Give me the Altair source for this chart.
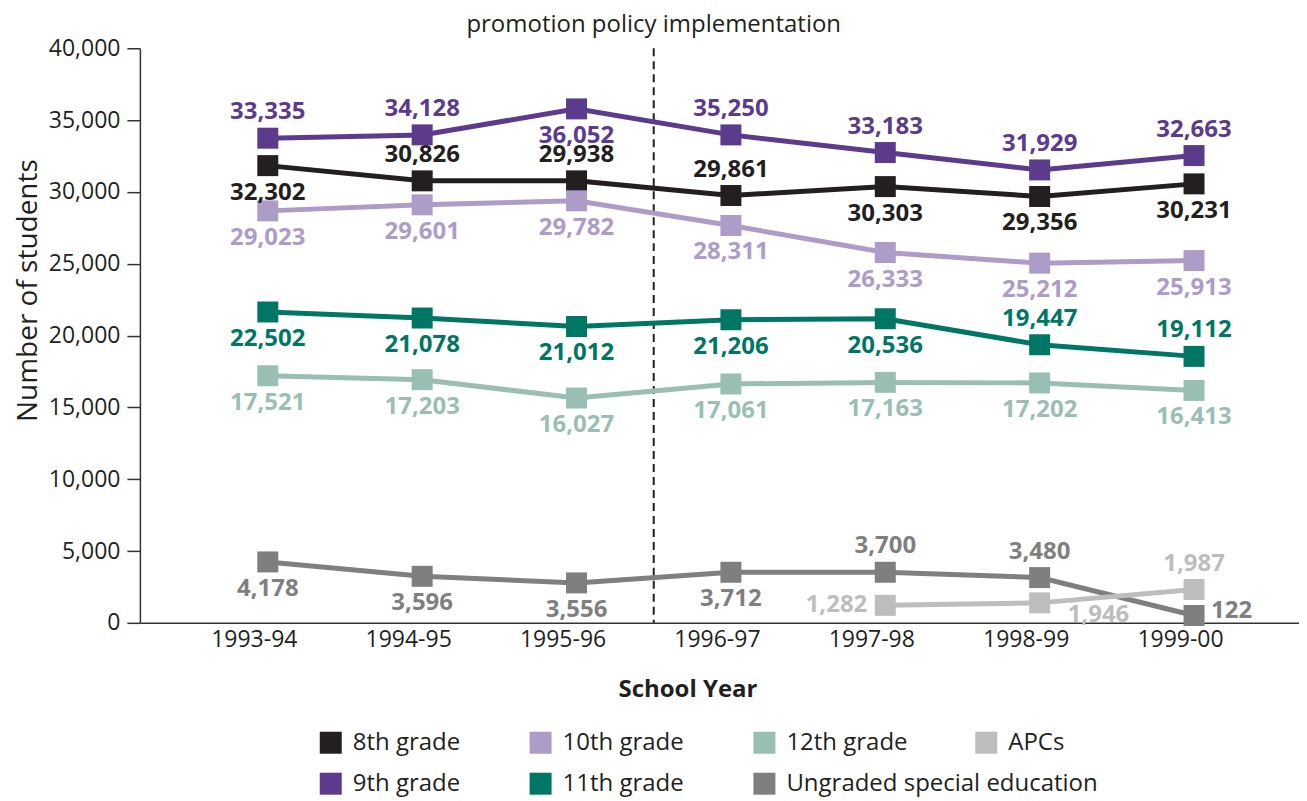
import altair as alt
import pandas as pd

# ---------------- data ----------------
years = ["1993-94", "1994-95", "1995-96", "1996-97", "1997-98", "1998-99", "1999-00"]

grade8 = [31830, 30770, 30770, 29750, 30370, 29680, 30560]
grade8_labels = ["32,302", "30,826", "29,938", "29,861", "30,303", "29,356", "30,231"]
grade8_side = ["below", "above", "above", "above", "below", "below", "below"]

grade9 = [33740, 33970, 35780, 33970, 32740, 31530, 32530]
grade9_labels = ["33,335", "34,128", "36,052", "35,250", "33,183", "31,929", "32,663"]
grade9_side = ["above", "above", "below", "above", "above", "above", "above"]

grade10 = [28680, 29100, 29380, 27660, 25780, 25040, 25220]
grade10_labels = ["29,023", "29,601", "29,782", "28,311", "26,333", "25,212", "25,913"]
grade10_side = ["below"] * 7

grade11 = [21640, 21220, 20630, 21100, 21170, 19360, 18550]
grade11_labels = ["22,502", "21,078", "21,012", "21,206", "20,536", "19,447", "19,112"]
grade11_side = ["below", "below", "below", "below", "below", "above", "above"]

grade12 = [17200, 16930, 15650, 16630, 16740, 16700, 16180]
grade12_labels = ["17,521", "17,203", "16,027", "17,061", "17,163", "17,202", "16,413"]
grade12_side = ["below"] * 7

ungraded = [4240, 3240, 2780, 3520, 3520, 3150, 510]
ungraded_labels = ["4,178", "3,596", "3,556", "3,712", "3,700", "3,480", "122"]
ungraded_side = ["below", "below", "below", "below", "above", "above", "right"]

apcs = [None, None, None, None, 1220, 1390, 2320]
apcs_labels = [None, None, None, None, "1,282", "1,946", "1,987"]
apcs_side = [None, None, None, None, "left", "belowright", "above"]

series = [
    ("8th grade", grade8, grade8_labels, grade8_side),
    ("9th grade", grade9, grade9_labels, grade9_side),
    ("10th grade", grade10, grade10_labels, grade10_side),
    ("11th grade", grade11, grade11_labels, grade11_side),
    ("12th grade", grade12, grade12_labels, grade12_side),
    ("Ungraded special education", ungraded, ungraded_labels, ungraded_side),
    ("APCs", apcs, apcs_labels, apcs_side),
]

colors = {
    "8th grade": "#231f20",
    "9th grade": "#5c3a8c",
    "10th grade": "#ae9cc8",
    "11th grade": "#007765",
    "12th grade": "#99bfb4",
    "APCs": "#bdbdbe",
    "Ungraded special education": "#7f7f80",
}

policy_index = 2.5
policy_text = "promotion policy implementation"
y_ticks = [0, 5000, 10000, 15000, 20000, 25000, 30000, 35000, 40000]

rows = []
for name, vals, labs, sides in series:
    for i, (v, l, s) in enumerate(zip(vals, labs, sides)):
        if v is None:
            continue
        rows.append(dict(series=name, idx=i, year=years[i], value=v, label=l, side=s))
df = pd.DataFrame(rows)

policy_df = pd.DataFrame({"idx": [policy_index], "value": [40000], "value2": [0], "text": [policy_text]})

# ---------------- styling ----------------
FONT = "Open Sans"
DARK = "#231f20"
series_order = [s[0] for s in series]
main_order = [n for n in series_order if n != "APCs"]
mark_scale = alt.Scale(domain=series_order, range=[colors[n] for n in series_order])
main_scale = alt.Scale(domain=main_order, range=[colors[n] for n in main_order])

label_expr = "[" + ",".join("'%s'" % y for y in years) + "][datum.value]"

x_enc = alt.X(
    "idx:Q",
    scale=alt.Scale(domain=[-0.8285, 6.68], nice=False, zero=False),
    axis=alt.Axis(
        values=list(range(len(years))), labelExpr=label_expr, ticks=False, grid=False,
        title="School Year", titleFont=FONT, titleFontSize=24, titleFontWeight="bold",
        titleColor=DARK, titleX=548, titleY=67, titleBaseline="middle",
        labelFont=FONT, labelFontSize=23, labelColor=DARK, labelPadding=6,
        labelOffset=-14, domainColor="#333333", domainWidth=1.5,
    ),
)
y_enc = alt.Y(
    "value:Q",
    scale=alt.Scale(domain=[0, 40000], nice=False),
    axis=alt.Axis(
        values=y_ticks, labelExpr="format(datum.value, ',.0f')", grid=False,
        tickSize=13, tickColor="#333333",
        tickWidth=1.5, domainColor="#333333", domainWidth=1.5,
        labelFont=FONT, labelFontSize=23, labelColor=DARK, labelPadding=7,
        title="Number of students", titleFont=FONT, titleFontSize=28,
        titleFontWeight="normal", titleColor=DARK, titleAngle=270,
        titleX=-111, titleY=242, titleBaseline="middle", titleAlign="center",
    ),
)

legend_common = dict(
    title=None, orient="none", legendY=683, symbolType="square", symbolSize=484,
    symbolStrokeWidth=0, symbolOpacity=1, labelFont=FONT, labelFontSize=24,
    labelColor=DARK, labelOffset=10, rowPadding=17, labelLimit=400,
)

rule = alt.Chart(policy_df).mark_rule(
    strokeDash=[8, 5], strokeWidth=2, color=DARK
).encode(x=x_enc, y=y_enc, y2="value2:Q")

title_txt = alt.Chart(policy_df).mark_text(
    font=FONT, fontSize=24, color=DARK, dy=-23, baseline="middle"
).encode(x=x_enc, y=y_enc, text="text:N")

lines = alt.Chart(df).mark_line(strokeWidth=5).encode(
    x=x_enc, y=y_enc, stroke=alt.Stroke("series:N", scale=mark_scale, legend=None)
)

points_main = alt.Chart(df).transform_filter(alt.datum.series != "APCs").mark_square(
    size=441, filled=True, opacity=1
).encode(
    x=x_enc, y=y_enc,
    color=alt.Color(
        "series:N", scale=main_scale,
        legend=alt.Legend(legendX=179, columns=3, columnPadding=68, **legend_common),
    ),
)

points_apc = alt.Chart(df).transform_filter(alt.datum.series == "APCs").mark_point(
    size=441, filled=True, opacity=1, color=colors["APCs"]
).encode(
    x=x_enc, y=y_enc,
    shape=alt.Shape(
        "series:N", scale=alt.Scale(domain=["APCs"], range=["square"]),
        legend=alt.Legend(legendX=835, symbolFillColor=colors["APCs"], **legend_common),
    ),
)

side_style = {
    "above": dict(dx=0, dy=-26, align="center"),
    "below": dict(dx=0, dy=27, align="center"),
    "left": dict(dx=-18, dy=0, align="right"),
    "right": dict(dx=17, dy=-5, align="left"),
    "belowright": dict(dx=28, dy=12, align="left"),
}
text_layers = []
for side, st in side_style.items():
    text_layers.append(
        alt.Chart(df).transform_filter(alt.datum.side == side).mark_text(
            font=FONT, fontSize=24, fontWeight="bold", baseline="middle", **st
        ).encode(
            x=x_enc, y=y_enc, text="label:N",
            fill=alt.Fill("series:N", scale=mark_scale, legend=None),
        )
    )

chart = alt.layer(rule, title_txt, lines, points_main, points_apc, *text_layers).properties(
    width=1160, height=575,
    padding={"left": 132, "top": 40, "right": 0, "bottom": 178},
    autosize=alt.AutoSizeParams(type="none"),
).resolve_scale(
    color="independent", fill="independent", stroke="independent", shape="independent"
).resolve_legend(
    color="independent", fill="independent", stroke="independent", shape="independent"
).configure_view(stroke=None)

chart.save("out.html", embed_options={"renderer": "svg", "actions": False})
